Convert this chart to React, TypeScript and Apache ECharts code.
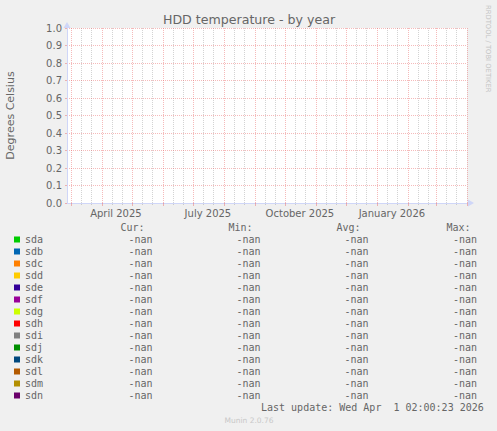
import React, { useEffect, useRef } from 'react';
import * as echarts from 'echarts';

// ---- data ----
const chartTitle = 'HDD temperature - by year';
const yAxisName = 'Degrees Celsius';
const devices = ['sda', 'sdb', 'sdc', 'sdd', 'sde', 'sdf', 'sdg', 'sdh', 'sdi', 'sdj', 'sdk', 'sdl', 'sdm', 'sdn'];
const deviceColors = ['#00CC00', '#0066B3', '#FF8000', '#FFCC00', '#330099', '#990099', '#CCFF00', '#FF0000', '#808080', '#008F00', '#00487D', '#B35A00', '#B38F00', '#6B006B'];
// every reading is NaN: nothing is drawn in the plot
const temperatures: number[][] = [[], [], [], [], [], [], [], [], [], [], [], [], [], []];
const columnHeaders = ['Cur:', 'Min:', 'Avg:', 'Max:'];
const curValues = ['-nan', '-nan', '-nan', '-nan', '-nan', '-nan', '-nan', '-nan', '-nan', '-nan', '-nan', '-nan', '-nan', '-nan'];
const minValues = ['-nan', '-nan', '-nan', '-nan', '-nan', '-nan', '-nan', '-nan', '-nan', '-nan', '-nan', '-nan', '-nan', '-nan'];
const avgValues = ['-nan', '-nan', '-nan', '-nan', '-nan', '-nan', '-nan', '-nan', '-nan', '-nan', '-nan', '-nan', '-nan', '-nan'];
const maxValues = ['-nan', '-nan', '-nan', '-nan', '-nan', '-nan', '-nan', '-nan', '-nan', '-nan', '-nan', '-nan', '-nan', '-nan'];
const rangeStart = '2025-02-25T02:00:23Z';
const rangeEnd = '2026-04-01T02:00:23Z';
const yMin = 0;
const yMax = 1;
const yStep = 0.1;
const monthLines = ['2025-03-01', '2025-04-01', '2025-05-01', '2025-06-01', '2025-07-01', '2025-08-01', '2025-09-01', '2025-10-01', '2025-11-01', '2025-12-01', '2026-01-01', '2026-02-01', '2026-03-01', '2026-04-01'];
const minorLines = ['2025-03-11', '2025-03-21', '2025-04-11', '2025-04-21', '2025-05-11', '2025-05-21', '2025-06-11', '2025-06-21', '2025-07-11', '2025-07-21', '2025-08-11', '2025-08-21', '2025-09-11', '2025-09-21', '2025-10-11', '2025-10-21', '2025-11-11', '2025-11-21', '2025-12-11', '2025-12-21', '2026-01-11', '2026-01-21', '2026-02-11', '2026-02-21', '2026-03-11', '2026-03-21'];
const labelDates = ['2025-04-15', '2025-07-16', '2025-10-16', '2026-01-16'];
const labelTexts = ['April 2025', 'July 2025', 'October 2025', 'January 2026'];
const lastUpdate = 'Last update: Wed Apr  1 02:00:23 2026';
const muninVersion = 'Munin 2.0.76';
const watermark = 'RRDTOOL / TOBI OETIKER';

const FONT = 'DejaVu Sans';
const MONO = 'DejaVu Sans Mono';
const TXT = '#666666';
const AXIS = '#CFD6F8';
const MGRID = 'rgba(230,90,90,0.42)';
const GRID = 'rgba(140,140,140,0.38)';

const toMs = (s: string) => Date.parse(s.length === 10 ? s + 'T00:00:00Z' : s);

function txt(text: string, x: number, y: number, align: string, font: string, size: number, fill: string, extra: any = {}) {
  return {
    type: 'text',
    x,
    y,
    silent: true,
    ...extra,
    style: {
      text,
      fill,
      fontFamily: font,
      fontSize: size,
      align,
      verticalAlign: 'middle',
      textAlign: align,
      textVerticalAlign: 'middle',
    },
  };
}

export default function App() {
  const ref = useRef<HTMLDivElement>(null);
  useEffect(() => {
    const chart = echarts.init(ref.current!, null, { renderer: 'svg' });
    const startMs = toMs(rangeStart);
    const endMs = toMs(rangeEnd);
    const monthMs = monthLines.map(toMs);
    const minorMs = minorLines.map(toMs);
    const labelMs = labelDates.map(toMs);

    const graphic: any[] = [];
    graphic.push(txt(chartTitle, 249, 19.5, 'center', FONT, 12.6, TXT));
    graphic.push(txt(watermark, 488, 5, 'left', FONT, 6.8, '#C4C4C4', { rotation: -Math.PI / 2 }));
    const headerX = [144.5, 252.5, 360.5, 470.5];
    columnHeaders.forEach((h, i) => graphic.push(txt(h, headerX[i], 227.5, 'right', MONO, 10, TXT)));
    const colX = [152.5, 260.5, 368.5, 477];
    const cols = [curValues, minValues, avgValues, maxValues];
    devices.forEach((_, r) => {
      cols.forEach((col, c) => graphic.push(txt(col[r], colX[c], 239.5 + r * 12, 'right', MONO, 10, TXT)));
    });
    graphic.push(txt(lastUpdate, 261, 407.5, 'left', MONO, 10, TXT));
    graphic.push(txt(muninVersion, 249, 420, 'center', FONT, 7.5, '#C8C8C8'));

    const option: any = {
      animation: false,
      backgroundColor: '#F0F0F0',
      grid: {
        left: 67, top: 28, width: 400, height: 175, show: true, backgroundColor: '#FFFFFF', borderWidth: 0,
        containLabel: false, outerBoundsMode: 'none',
      },
      xAxis: [
        {
          type: 'value',
          min: startMs,
          max: endMs,
          position: 'bottom',
          axisLine: { show: true, lineStyle: { color: AXIS, width: 1 }, symbol: ['none', 'triangle'], symbolSize: [7, 6], symbolOffset: [0, 4] },
          axisTick: { show: true, length: 3, lineStyle: { color: MGRID }, customValues: monthMs },
          axisLabel: {
            customValues: labelMs,
            formatter: (v: number) => {
              const i = labelMs.indexOf(v);
              return i >= 0 ? labelTexts[i] : '';
            },
            fontFamily: FONT,
            fontSize: 10,
            color: TXT,
            margin: 5,
          },
          splitLine: { show: true, lineStyle: { color: MGRID, type: [1, 1], width: 1 } },
          z: 3,
        },
        {
          type: 'value',
          min: startMs,
          max: endMs,
          position: 'bottom',
          axisLine: { show: false },
          axisLabel: { show: false },
          axisTick: { show: true, length: 2, lineStyle: { color: GRID }, customValues: minorMs },
          splitLine: { show: true, lineStyle: { color: GRID, type: [1, 1], width: 1 } },
          z: 2,
        },
      ],
      yAxis: {
        type: 'value',
        min: yMin,
        max: yMax,
        interval: yStep,
        name: yAxisName,
        nameLocation: 'middle',
        nameGap: 51,
        nameTextStyle: { fontFamily: FONT, fontSize: 11, color: TXT },
        axisLine: { show: true, lineStyle: { color: AXIS, width: 1 }, symbol: ['none', 'triangle'], symbolSize: [7, 6], symbolOffset: [0, 3] },
        axisTick: { show: true, length: 2, lineStyle: { color: MGRID } },
        axisLabel: { formatter: (v: number) => v.toFixed(1), fontFamily: FONT, fontSize: 10, color: TXT, margin: 5 },
        splitLine: { show: true, lineStyle: { color: MGRID, type: [1, 1], width: 1 } },
        z: 3,
      },
      legend: {
        orient: 'vertical',
        left: 14,
        top: 233.5,
        padding: 0,
        itemGap: 0,
        itemWidth: 6,
        itemHeight: 6,
        icon: 'rect',
        selectedMode: false,
        textStyle: { fontFamily: MONO, fontSize: 10, color: TXT, lineHeight: 12 },
        data: devices,
      },
      series: devices.map((d, i) => ({
        type: 'line',
        name: d,
        data: temperatures[i],
        color: deviceColors[i],
        itemStyle: { color: deviceColors[i] },
        lineStyle: { color: deviceColors[i] },
        showSymbol: false,
        xAxisIndex: 0,
        yAxisIndex: 0,
      })),
      graphic,
    };
    chart.setOption(option);
    return () => chart.dispose();
  }, []);
  return <div ref={ref} style={{ position: 'fixed', left: 0, top: 0, width: 497, height: 431 }} />;
}
